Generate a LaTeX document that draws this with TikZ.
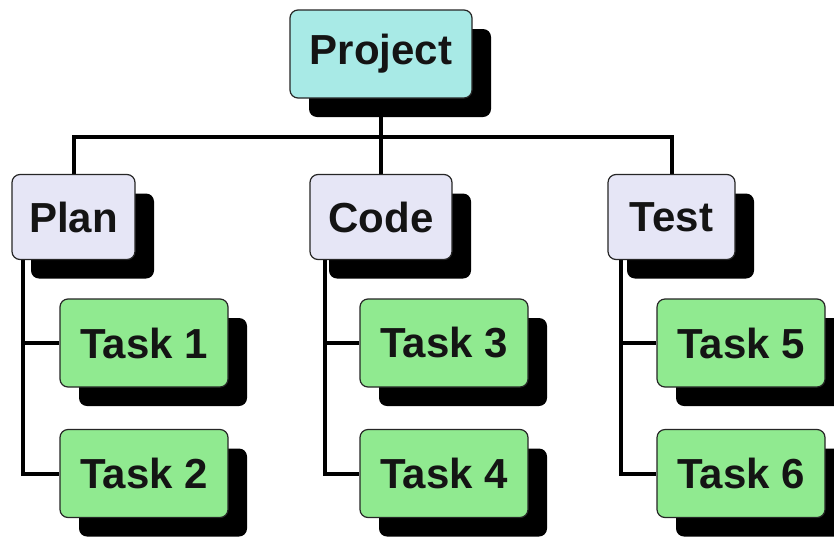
\documentclass[tikz,border=0pt]{standalone}
\usepackage{fontspec}
\setmainfont{Liberation Sans}
\usetikzlibrary{shadows}
\pgfdeclarelayer{bg}
\pgfsetlayers{bg,main}
\definecolor{projfill}{HTML}{A8EAE6}
\definecolor{phasefill}{HTML}{E6E6F6}
\definecolor{taskfill}{HTML}{90EA90}
\tikzset{
  box/.style={draw=black!85, line width=1.2pt, rounded corners=8pt,
    font=\fontsize{42}{50}\selectfont\bfseries, text=black!92, inner sep=0pt,
    drop shadow={shadow xshift=19pt, shadow yshift=-19pt, fill=black, opacity=1}},
  projbox/.style={box, fill=projfill, minimum width=182pt, minimum height=88pt},
  phasebox/.style={box, fill=phasefill, minimum height=85pt},
  taskbox/.style={box, fill=taskfill, minimum width=168pt, minimum height=88pt},
  conn/.style={line width=4pt, black}
}
\begin{document}
\begin{tikzpicture}[x=1pt,y=-1pt]
\useasboundingbox (0,0) rectangle (834,536);
\coordinate (bar) at (381,137);
\coordinate (sp1) at (23,260);
\coordinate (sp2) at (325,260);
\coordinate (sp3) at (621,260);
\node[projbox] (proj) at (381,54) {Project};
\node[phasebox, minimum width=123pt] (plan) at (73.5,217) {Plan};
\node[phasebox, minimum width=142pt] (code) at (381,217) {Code};
\node[phasebox, minimum width=127pt] (test) at (671.5,217) {Test};
\node[taskbox] (t1) at (144,343) {Task 1};
\node[taskbox] (t2) at (144,473.5) {Task 2};
\node[taskbox] (t3) at (444,343) {Task 3};
\node[taskbox] (t4) at (444,473.5) {Task 4};
\node[taskbox] (t5) at (741,343) {Task 5};
\node[taskbox] (t6) at (741,473.5) {Task 6};
\begin{pgfonlayer}{bg}
\fill[white] (0,0) rectangle (834,536);
\draw[conn] (proj.south) -- (bar);
\draw[conn] (plan.north) |- (bar) -| (test.north);
\draw[conn] (bar) -- (code.north);
\draw[conn] (sp1) |- (t1.west);
\draw[conn] (sp1) |- (t2.west);
\draw[conn] (sp2) |- (t3.west);
\draw[conn] (sp2) |- (t4.west);
\draw[conn] (sp3) |- (t5.west);
\draw[conn] (sp3) |- (t6.west);
\end{pgfonlayer}
\end{tikzpicture}
\end{document}
